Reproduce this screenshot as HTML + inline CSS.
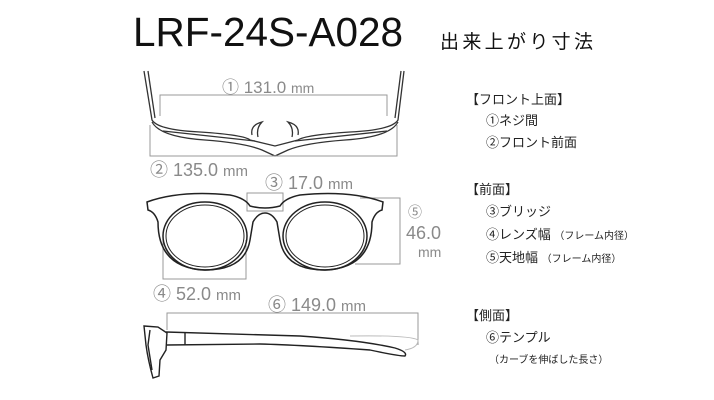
<!DOCTYPE html>
<html><head><meta charset="utf-8"><style>
html,body{margin:0;padding:0;background:#fff;}
svg{display:block;}
.t{font-family:"Liberation Sans","Noto Sans CJK JP",sans-serif;}
.g{fill:#8a8a8a;}
.j{fill:#222;font-size:13px;}
</style></head><body>
<svg width="714" height="400" viewBox="0 0 714 400" class="t" xmlns="http://www.w3.org/2000/svg">
<text x="133" y="46" font-size="41" textLength="270" lengthAdjust="spacingAndGlyphs" fill="#111">LRF-24S-A028</text>
<text x="440" y="48" font-size="19" textLength="153" fill="#111">出来上がり寸法</text>

<!-- top view -->
<g fill="none" stroke="#333" stroke-width="1.3">
<path d="M144 71 L152 120 Q158 130 200 132 Q245 135 250 140 L275 146 L298 140 Q305 135 350 132 Q392 130 398 120 L404 71"/>
<path d="M148 71 L155 118"/><path d="M401 71 L395 118"/>
<path d="M152 122 Q160 137 205 140 Q245 143 262 150 L275 156 L288 150 Q305 143 345 140 Q390 137 398 122"/>
<path d="M163 131 L255 141 M295 141 L387 131"/>
<path d="M252 135 Q250 125 262 122 Q256 128 258 137 M298 135 Q300 125 288 122 Q294 128 292 137"/>
</g>
<g fill="none" stroke="#999" stroke-width="1">
<polyline points="160,116 160,95 387,95 387,116"/>
<polyline points="150,125 150,156 397,156 397,125"/>
</g>
<text x="222" y="93" font-size="17" class="g">① 131.0 <tspan font-size="14">mm</tspan></text>
<text x="150" y="176" font-size="18" class="g">② 135.0 <tspan font-size="15">mm</tspan></text>
<text x="265" y="189" font-size="18" class="g">③ 17.0 <tspan font-size="15">mm</tspan></text>

<!-- front view -->
<g fill="none" stroke="#999" stroke-width="1">
<rect x="247" y="193" width="36" height="18"/>
<polyline points="163,240 163,279 246,279 246,240"/>
<polyline points="360,198 400,198 400,264 355,264"/>
</g>
<g fill="none" stroke="#222" stroke-width="1.5">
<path d="M147 202 Q180 190 230 195 Q245 198 250 206 Q265 210 280 206 Q285 198 300 195 Q350 190 383 202 L382 210 Q375 212 372 222 Q372 268 325 270 Q285 270 280 240 L277 222 Q272 213 265 213 Q258 213 253 222 L250 240 Q245 270 205 270 Q158 268 158 222 Q155 212 148 210 Z"/>
<ellipse cx="205" cy="236" rx="42" ry="34"/>
<ellipse cx="325" cy="236" rx="42" ry="34"/>
<ellipse cx="205" cy="236" rx="39" ry="31" stroke-width="1"/>
<ellipse cx="325" cy="236" rx="39" ry="31" stroke-width="1"/>
</g>
<text x="153" y="300" font-size="18" class="g">④ 52.0 <tspan font-size="15">mm</tspan></text>
<text x="408" y="217" font-size="14" class="g">⑤</text>
<text x="406" y="239" font-size="18" class="g">46.0</text>
<text x="418" y="257" font-size="14" class="g">mm</text>

<!-- side view -->
<polyline points="167,330 167,313 418,313 418,345" fill="none" stroke="#999" stroke-width="1"/>
<text x="268" y="311" font-size="18" class="g">⑥ 149.0 <tspan font-size="15">mm</tspan></text>
<g fill="none" stroke="#222" stroke-width="1.4">
<path d="M144 326 L158 327 L167 333 L166 350 L160 360 L159 376 L153 378 Q148 360 146 345 Z"/>
<path d="M150 330 L148 345 L152 370"/>
<path d="M166 332 L300 336 Q360 340 395 348 Q408 352 405 356 Q398 356 370 350 Q300 345 260 344 L167 345"/>
<path d="M185 333 L185 345"/>
</g>
<path d="M350 336 Q410 335 418 340 Q418 348 405 350" fill="none" stroke="#bbb" stroke-width="1"/>

<!-- right text -->
<text x="466" y="104" class="j">【フロント上面】</text>
<text x="486" y="125" class="j">①ネジ間</text>
<text x="486" y="147" class="j">②フロント前面</text>
<text x="466" y="194" class="j">【前面】</text>
<text x="486" y="216" class="j">③ブリッジ</text>
<text x="486" y="239" class="j">④レンズ幅 <tspan font-size="10">（フレーム内径）</tspan></text>
<text x="486" y="262" class="j">⑤天地幅 <tspan font-size="10">（フレーム内径）</tspan></text>
<text x="466" y="320" class="j">【側面】</text>
<text x="486" y="342" class="j">⑥テンプル</text>
<text x="489" y="363" font-size="10" fill="#222">（カーブを伸ばした長さ）</text>
</svg>
</body></html>
